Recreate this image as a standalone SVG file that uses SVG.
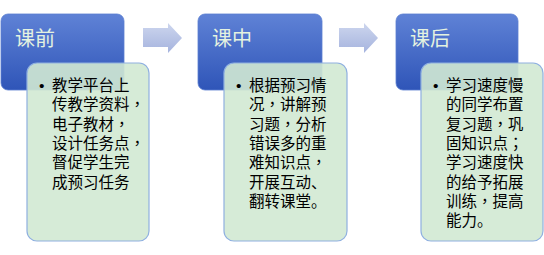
<svg xmlns="http://www.w3.org/2000/svg" width="544" height="255" viewBox="0 0 544 255">
<style>
.hdr{stroke:#5a7fd0;stroke-width:0.8}
.card{fill:#d1e9d3;fill-opacity:0.9;stroke:#8fb0e0;stroke-width:1.2}
.title{font-family:"Liberation Sans","Noto Sans CJK SC",sans-serif;font-size:20px;fill:#e4f2e0}
.body{font-family:"Liberation Sans","Noto Sans CJK SC",sans-serif;font-size:15.5px;fill:#000}
.p{font-family:"Noto Sans CJK TC",sans-serif}
.arr{fill:url(#ga)}
</style>
<defs>
<linearGradient id="gb" x1="0" y1="0" x2="0" y2="1">
<stop offset="0" stop-color="#5f82d6"/>
<stop offset="1" stop-color="#2f55b8"/>
</linearGradient>
<linearGradient id="ga" x1="0" y1="0" x2="0" y2="1">
<stop offset="0" stop-color="#cdd6ee"/>
<stop offset="1" stop-color="#a5b3de"/>
</linearGradient>
</defs>
<g id="connectors">
<path class="arr" d="M143,28 H168 V23 L182,38 L168,53 V47 H143 Z"/>
<path class="arr" d="M339,28 H364 V23 L378,38 L364,53 V47 H339 Z"/>
</g>
<g id="node1">
<rect class="hdr" x="1" y="14" width="123" height="76" rx="7" fill="url(#gb)"/>
<text class="title" x="15" y="46">课前</text>
<rect class="card" x="27" y="63" width="122" height="178" rx="10"/>
<text class="body" x="39" y="91">•</text>
<text class="body"><tspan x="52" y="91">教学平台上</tspan><tspan x="52" dy="19.3">传教学资料<tspan class="p">，</tspan></tspan><tspan x="52" dy="19.3">电子教材<tspan class="p">，</tspan></tspan><tspan x="52" dy="19.3">设计任务点<tspan class="p">，</tspan></tspan><tspan x="52" dy="19.3">督促学生完</tspan><tspan x="52" dy="19.3">成预习任务</tspan></text>
</g>
<g id="node2">
<rect class="hdr" x="198" y="14" width="124" height="76" rx="7" fill="url(#gb)"/>
<text class="title" x="212" y="46">课中</text>
<rect class="card" x="224" y="63" width="123" height="178" rx="10"/>
<text class="body" x="236" y="91">•</text>
<text class="body"><tspan x="249" y="91">根据预习情</tspan><tspan x="249" dy="19.3">况<tspan class="p">，</tspan>讲解预</tspan><tspan x="249" dy="19.3">习题<tspan class="p">，</tspan>分析</tspan><tspan x="249" dy="19.3">错误多的重</tspan><tspan x="249" dy="19.3">难知识点<tspan class="p">，</tspan></tspan><tspan x="249" dy="19.3">开展互动、</tspan><tspan x="249" dy="19.3">翻转课堂。</tspan></text>
</g>
<g id="node3">
<rect class="hdr" x="396" y="14" width="122" height="76" rx="7" fill="url(#gb)"/>
<text class="title" x="410" y="46">课后</text>
<rect class="card" x="421" y="63" width="122" height="178" rx="10"/>
<text class="body" x="433" y="91">•</text>
<text class="body"><tspan x="446" y="91">学习速度慢</tspan><tspan x="446" dy="19.3">的同学布置</tspan><tspan x="446" dy="19.3">复习题<tspan class="p">，</tspan>巩</tspan><tspan x="446" dy="19.3">固知识点<tspan class="p">；</tspan></tspan><tspan x="446" dy="19.3">学习速度快</tspan><tspan x="446" dy="19.3">的给予拓展</tspan><tspan x="446" dy="19.3">训练<tspan class="p">，</tspan>提高</tspan><tspan x="446" dy="19.3">能力。</tspan></text>
</g>
</svg>
